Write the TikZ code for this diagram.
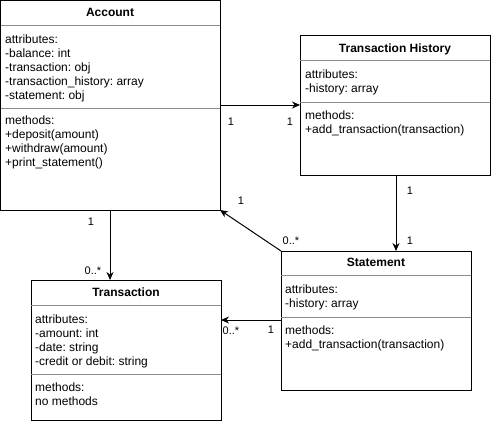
\documentclass[tikz,border=0pt]{standalone}
\usepackage{fontspec}
\setmainfont{Liberation Sans}
\usetikzlibrary{arrows.meta}
\frenchspacing
\begin{document}
\begin{tikzpicture}[x=1pt,y=-1pt,
  umlbox/.style n args={2}{draw=black,line width=1pt,minimum width=#1pt,minimum height=#2pt,anchor=north west,inner sep=0pt,outer sep=0pt},
  divider/.style={draw=black!45,line width=1pt},
  title/.style={anchor=base,font=\fontsize{12}{14}\selectfont\bfseries,inner sep=0pt},
  body/.style={anchor=base west,font=\fontsize{12}{14}\selectfont\frenchspacing,inner sep=0pt},
  mult/.style={anchor=center,font=\fontsize{11}{13}\selectfont,inner sep=0pt},
  arr/.style={draw=black,line width=1pt,-{Stealth[length=8pt,width=7pt]}}]
\useasboundingbox (0,0) rectangle (491,421);
\fill[white] (0,0) rectangle (491,421);
% boxes
\node[umlbox={219.5}{209.5}] (acc) at (0.5,0.5) {};
\node[umlbox={190}{140}] (th) at (300,35) {};
\node[umlbox={190}{139}] (st) at (281,251) {};
\node[umlbox={190}{140}] (tr) at (31,280) {};
% dividers
\draw[divider] (acc.west |- 0,25) -- (acc.east |- 0,25);
\draw[divider] (acc.west |- 0,108) -- (acc.east |- 0,108);
\draw[divider] (th.west |- 0,60) -- (th.east |- 0,60);
\draw[divider] (th.west |- 0,102) -- (th.east |- 0,102);
\draw[divider] (st.west |- 0,275) -- (st.east |- 0,275);
\draw[divider] (st.west |- 0,317) -- (st.east |- 0,317);
\draw[divider] (tr.west |- 0,305) -- (tr.east |- 0,305);
\draw[divider] (tr.west |- 0,374) -- (tr.east |- 0,374);
% titles
\node[title] (acct) at (110,16.5) {Account};
\node[title] (tht) at (395,52) {Transaction History};
\node[title] (stt) at (376,266.7) {Statement};
\node[title] (trt) at (126,296.7) {Transaction};
% bodies
\foreach \t [count=\i] in {attributes:,-balance: int,-transaction: obj,-transaction\_history: array,-statement: obj}
  \node[body] (acca\i) at (5,{43+14*(\i-1)}) {\t};
\foreach \t [count=\i] in {methods:,+deposit(amount),+withdraw(amount),+print\_statement()}
  \node[body] (accm\i) at (5,{124.5+14*(\i-1)}) {\t};
\foreach \t [count=\i] in {attributes:,-history: array}
  \node[body] (tha\i) at (305,{78.3+14*(\i-1)}) {\t};
\foreach \t [count=\i] in {methods:,+add\_transaction(transaction)}
  \node[body] (thm\i) at (305,{119.3+14*(\i-1)}) {\t};
\foreach \t [count=\i] in {attributes:,-history: array}
  \node[body] (sta\i) at (285,{293.3+14*(\i-1)}) {\t};
\foreach \t [count=\i] in {methods:,+add\_transaction(transaction)}
  \node[body] (stm\i) at (285,{334.3+14*(\i-1)}) {\t};
\foreach \t [count=\i] in {attributes:,-amount: int,-date: string,-credit or debit: string}
  \node[body] (tra\i) at (35,{323.3+14*(\i-1)}) {\t};
\foreach \t [count=\i] in {methods:,no methods}
  \node[body] (trm\i) at (35,{391.7+14*(\i-1)}) {\t};
% connectors
\draw[arr] (acc.east |- 0,105) -- (th.west |- 0,105);
\draw[arr] (acc.south -| 110,0) -- (tr.north -| 110,0);
\draw[arr] (th.south -| 396,0) -- (st.north -| 396,0);
\draw[arr] (st.north west) -- (acc.south east);
\draw[arr] (st.west |- 0,320) -- (tr.east |- 0,320);
% multiplicities
\node[mult] (m1) at (231,122) {1};
\node[mult] (m2) at (290,122) {1};
\node[mult] (m3) at (91,222) {1};
\node[mult] (m4) at (93,271) {0..*};
\node[mult] (m5) at (410,191) {1};
\node[mult] (m6) at (410,241) {1};
\node[mult] (m7) at (241,201) {1};
\node[mult] (m8) at (291,241) {0..*};
\node[mult] (m9) at (231,331) {0..*};
\node[mult] (m10) at (271,330) {1};
\end{tikzpicture}
\end{document}
